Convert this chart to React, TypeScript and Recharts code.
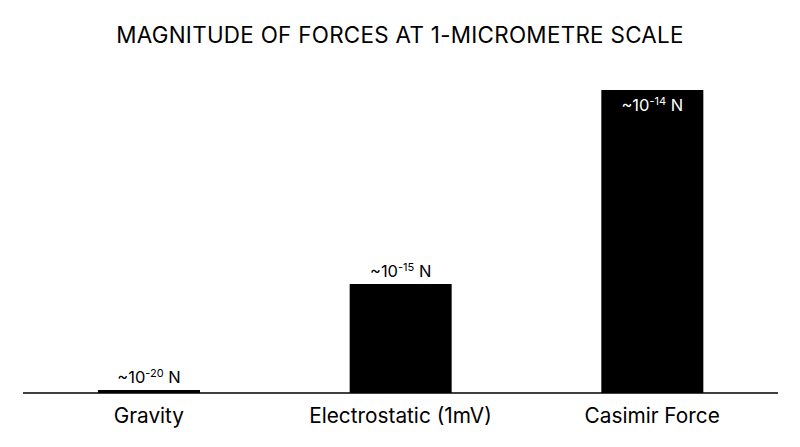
import React from "react";
import { BarChart, Bar, XAxis, YAxis, LabelList } from "recharts";

const categories = ["Gravity", "Electrostatic (1mV)", "Casimir Force"];
const barHeights = [1, 36, 100];
const exponents = ["-20", "-15", "-14"];
const labelInside = [false, false, true];

const data = categories.map((name, i) => ({
  name,
  value: barHeights[i],
  exp: exponents[i],
  inside: labelInside[i],
}));

const FONT = "Inter, 'Noto Sans', sans-serif";

const ForceLabel = (props: any) => {
  const { x, y, width, index } = props;
  const d = data[index];
  if (!d) return null;
  const cx = Number(x) + Number(width) / 2;
  const baseY = d.inside ? Number(y) + 21 : Number(y) - 7;
  return (
    <text
      x={cx}
      y={baseY}
      textAnchor="middle"
      fontFamily={FONT}
      fontSize={16.5}
      fill={d.inside ? "#ffffff" : "#000000"}
    >
      <tspan>~10</tspan>
      <tspan dy={-6} fontSize={11}>{d.exp}</tspan>
      <tspan dy={6}> N</tspan>
    </text>
  );
};

export default function App() {
  return (
    <div style={{ position: "absolute", left: 0, top: 0, width: 800, height: 447, background: "#fff" }}>
      <div
        style={{
          position: "absolute",
          left: 0,
          top: 21,
          width: 800,
          textAlign: "center",
          fontFamily: FONT,
          fontSize: 22.4,
          lineHeight: "28px",
          color: "#000",
          letterSpacing: 0.3,
        }}
      >
        MAGNITUDE OF FORCES AT 1-MICROMETRE SCALE
      </div>
      <BarChart
        width={800}
        height={447}
        data={data}
        margin={{ top: 90, right: 22, bottom: 0, left: 23 }}
        barCategoryGap="30%"
      >
        <XAxis
          dataKey="name"
          height={54}
          tickLine={false}
          tickMargin={9}
          axisLine={{ stroke: "#000", strokeWidth: 1.5 }}
          tick={{ fill: "#000", fontSize: 20.8, fontFamily: FONT }}
          interval={0}
        />
        <YAxis hide domain={[0, 100]} />
        <Bar dataKey="value" fill="#000" isAnimationActive={false} barSize={102}>
          <LabelList dataKey="value" content={<ForceLabel />} />
        </Bar>
      </BarChart>
    </div>
  );
}
